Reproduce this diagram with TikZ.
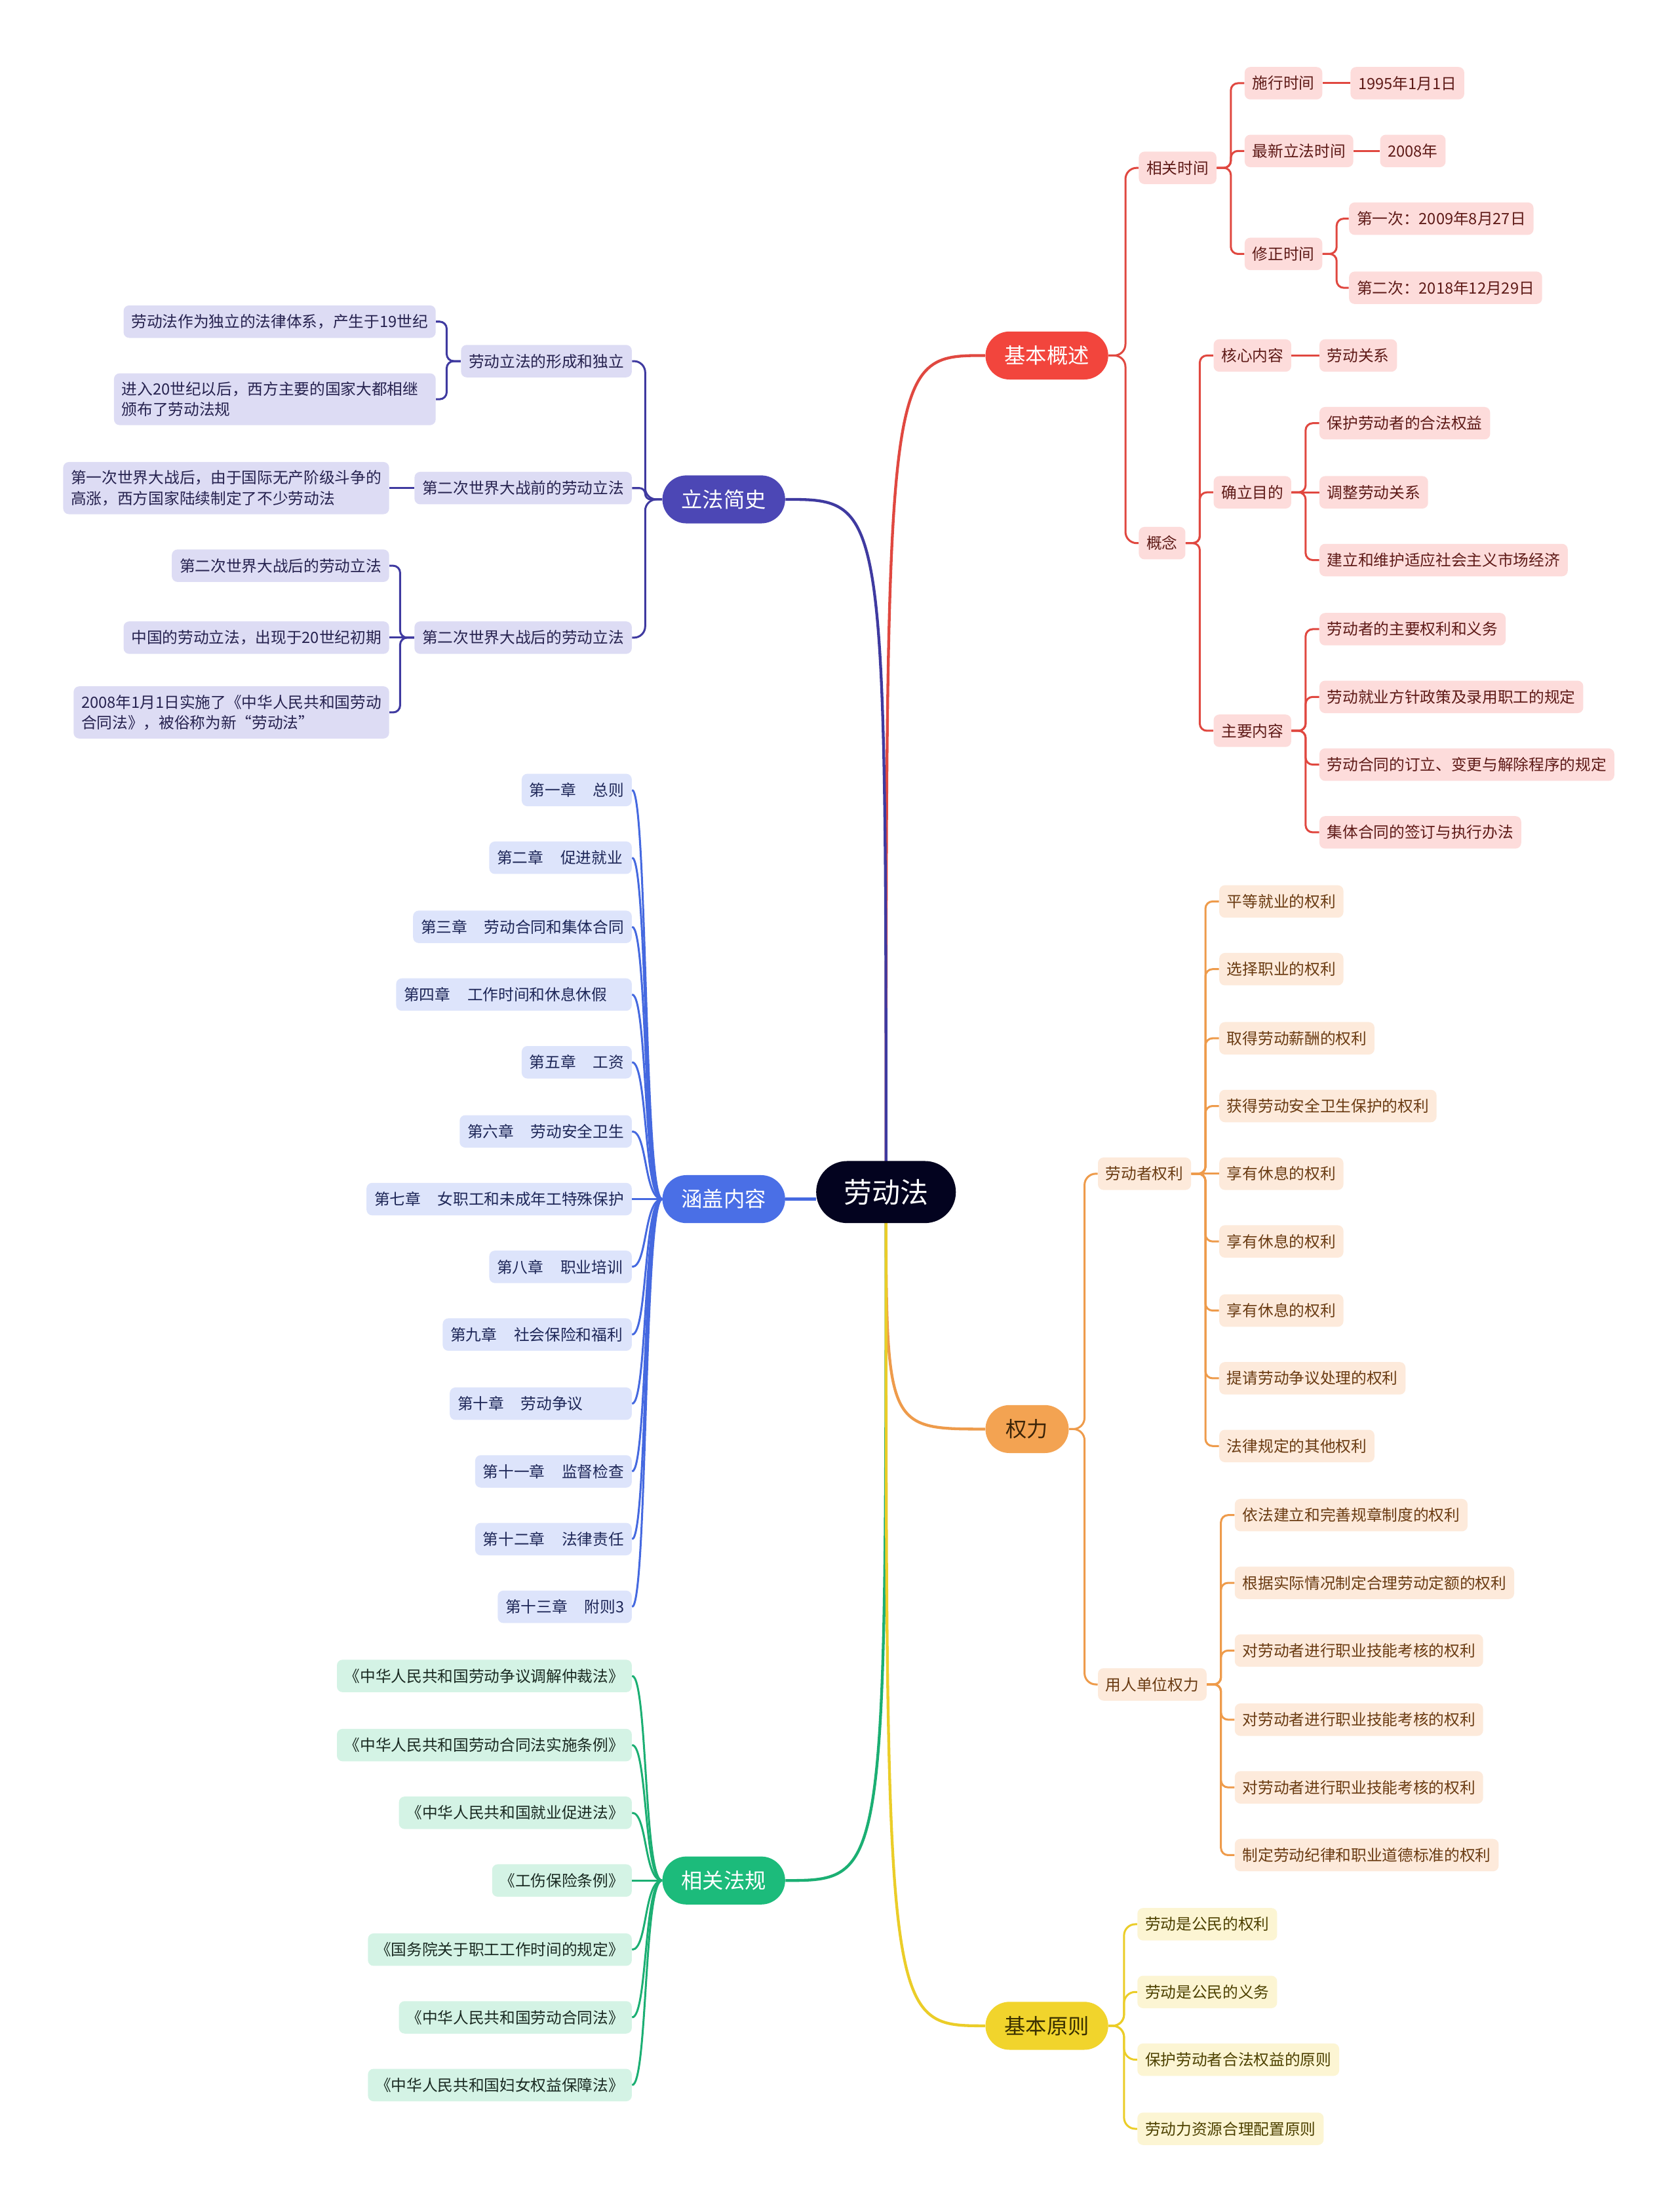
\documentclass[tikz,border=0pt]{standalone}
\usepackage{fontspec}
\setmainfont{Noto Sans CJK SC}
\usetikzlibrary{backgrounds}
\definecolor{rootc}{HTML}{03031F}
\definecolor{redm}{HTML}{F2453D}
\definecolor{redl}{HTML}{E04840}
\definecolor{redf}{HTML}{FDDCDB}
\definecolor{redt}{HTML}{5E1A17}
\definecolor{purm}{HTML}{4C47B5}
\definecolor{purl}{HTML}{3F3AA0}
\definecolor{purf}{HTML}{DDDCF4}
\definecolor{purt}{HTML}{26224F}
\definecolor{blum}{HTML}{4A6FE6}
\definecolor{blul}{HTML}{4569E0}
\definecolor{bluf}{HTML}{DDE4FB}
\definecolor{blut}{HTML}{1D2657}
\definecolor{grnm}{HTML}{1CBB7B}
\definecolor{grnl}{HTML}{1BAF73}
\definecolor{grnf}{HTML}{D4F3E5}
\definecolor{grnt}{HTML}{1A2A22}
\definecolor{orgm}{HTML}{F3A352}
\definecolor{orgl}{HTML}{EE9B4B}
\definecolor{orgf}{HTML}{FDEADB}
\definecolor{orgt}{HTML}{6A3B12}
\definecolor{orgmt}{HTML}{3B2408}
\definecolor{yelm}{HTML}{F1D42C}
\definecolor{yell}{HTML}{EBCD28}
\definecolor{yelf}{HTML}{FCF5D3}
\definecolor{yelt}{HTML}{4D4100}
\definecolor{yelmt}{HTML}{3A3000}
\tikzset{
  leafbox/.style={rounded corners=4pt, inner xsep=5.5pt, inner ysep=6pt, minimum height=23pt, font=\fontsize{11}{14.5}\selectfont, align=left},
  rleaf/.style={leafbox, fill=redf, text=redt},
  pleaf/.style={leafbox, fill=purf, text=purt},
  bleaf/.style={leafbox, fill=bluf, text=blut},
  gleaf/.style={leafbox, fill=grnf, text=grnt},
  oleaf/.style={leafbox, fill=orgf, text=orgt},
  yleaf/.style={leafbox, fill=yelf, text=yelt},
  mainbox/.style={rounded corners=17pt, minimum height=34pt, minimum width=87pt, inner xsep=8pt, font=\fontsize{15}{18}\selectfont},
  mainlink/.style={line width=2pt},
  sublink/.style={line width=1.4pt},
  rlink/.style={sublink, draw=redl, rounded corners=5pt},
  plink/.style={sublink, draw=purl, rounded corners=5pt},
  blink/.style={sublink, draw=blul},
  glink/.style={sublink, draw=grnl},
  olink/.style={sublink, draw=orgl, rounded corners=5pt},
  ylink/.style={sublink, draw=yell, rounded corners=8pt},
}
\begin{document}
\begin{tikzpicture}[x=1pt, y=-1pt]
\useasboundingbox (0,0) rectangle (1189,1568);
% root
\node[fill=rootc, text=white, rounded corners=22pt, minimum width=99pt, minimum height=44pt, font=\fontsize{20}{24}\selectfont] (root) at (628,845) {劳动法};
% ---------- 基本概述 ----------
\node[mainbox, fill=redm, text=white] (jbgs) at (742,252) {基本概述};
\node[rleaf, anchor=west] (xgsj) at (807,119) {相关时间};
\node[rleaf, anchor=west] (sxsj) at (882,59) {施行时间};
\node[rleaf, anchor=west] (d1995) at (957,59) {1995年1月1日};
\node[rleaf, anchor=west] (zxlf) at (882,107) {最新立法时间};
\node[rleaf, anchor=west] (d2008) at (978,107) {2008年};
\node[rleaf, anchor=west] (xzsj) at (882,180) {修正时间};
\node[rleaf, anchor=west] (dyc) at (956,155) {第一次：2009年8月27日};
\node[rleaf, anchor=west] (dec) at (956,204) {第二次：2018年12月29日};
\node[rleaf, anchor=west] (gn) at (807,385) {概念};
\node[rleaf, anchor=west] (hxnr) at (860,252) {核心内容};
\node[rleaf, anchor=west] (ldgx) at (935,252) {劳动关系};
\node[rleaf, anchor=west] (qlmd) at (860,349) {确立目的};
\node[rleaf, anchor=west] (bh) at (935,300) {保护劳动者的合法权益};
\node[rleaf, anchor=west] (tz) at (935,349) {调整劳动关系};
\node[rleaf, anchor=west] (jl) at (935,397) {建立和维护适应社会主义市场经济};
\node[rleaf, anchor=west] (zynr) at (860,518) {主要内容};
\node[rleaf, anchor=west] (z1) at (935,446) {劳动者的主要权利和义务};
\node[rleaf, anchor=west] (z2) at (935,494) {劳动就业方针政策及录用职工的规定};
\node[rleaf, anchor=west] (z3) at (935,542) {劳动合同的订立、变更与解除程序的规定};
\node[rleaf, anchor=west] (z4) at (935,590) {集体合同的签订与执行办法};
% ---------- 立法简史 ----------
\node[mainbox, fill=purm, text=white] (lfjs) at (513,354) {立法简史};
\node[pleaf, anchor=east] (xc) at (448,256) {劳动立法的形成和独立};
\node[pleaf, anchor=east] (p1) at (309,228) {劳动法作为独立的法律体系，产生于19世纪};
\node[pleaf, anchor=east, text width=217pt] (p2) at (309,283) {进入20世纪以后，西方主要的国家大都相继\\颁布了劳动法规};
\node[pleaf, anchor=east] (zq) at (448,346) {第二次世界大战前的劳动立法};
\node[pleaf, anchor=east] (p3) at (276,346) {第一次世界大战后，由于国际无产阶级斗争的\\高涨，西方国家陆续制定了不少劳动法};
\node[pleaf, anchor=east] (zh) at (448,452) {第二次世界大战后的劳动立法};
\node[pleaf, anchor=east] (p4) at (276,401) {第二次世界大战后的劳动立法};
\node[pleaf, anchor=east] (p5) at (276,452) {中国的劳动立法，出现于20世纪初期};
\node[pleaf, anchor=east] (p6) at (276,505) {2008年1月1日实施了《中华人民共和国劳动\\合同法》，被俗称为新“劳动法”};
% ---------- 涵盖内容 ----------
\node[mainbox, fill=blum, text=white] (hgnr) at (513,850) {涵盖内容};
\node[bleaf, anchor=east] (c1) at (448,560) {\makebox[67pt][l]{第一章\hspace{12pt}总则}};
\node[bleaf, anchor=east] (c2) at (448,608) {\makebox[90pt][l]{第二章\hspace{12pt}促进就业}};
\node[bleaf, anchor=east] (c3) at (448,657) {\makebox[144pt][l]{第三章\hspace{12pt}劳动合同和集体合同}};
\node[bleaf, anchor=east] (c4) at (448,705) {\makebox[156pt][l]{第四章\hspace{12pt}工作时间和休息休假}};
\node[bleaf, anchor=east] (c5) at (448,753) {\makebox[67pt][l]{第五章\hspace{12pt}工资}};
\node[bleaf, anchor=east] (c6) at (448,802) {\makebox[111pt][l]{第六章\hspace{12pt}劳动安全卫生}};
\node[bleaf, anchor=east] (c7) at (448,850) {\makebox[177pt][l]{第七章\hspace{12pt}女职工和未成年工特殊保护}};
\node[bleaf, anchor=east] (c8) at (448,898) {\makebox[90pt][l]{第八章\hspace{12pt}职业培训}};
\node[bleaf, anchor=east] (c9) at (448,946) {\makebox[123pt][l]{第九章\hspace{12pt}社会保险和福利}};
\node[bleaf, anchor=east] (c10) at (448,995) {\makebox[118pt][l]{第十章\hspace{12pt}劳动争议}};
\node[bleaf, anchor=east] (c11) at (448,1043) {\makebox[100pt][l]{第十一章\hspace{12pt}监督检查}};
\node[bleaf, anchor=east] (c12) at (448,1091) {\makebox[100pt][l]{第十二章\hspace{12pt}法律责任}};
\node[bleaf, anchor=east] (c13) at (448,1139) {\makebox[84pt][l]{第十三章\hspace{12pt}附则3}};
% ---------- 相关法规 ----------
\node[mainbox, fill=grnm, text=white] (xgfg) at (513,1333) {相关法规};
\node[gleaf, anchor=east] (g1) at (448,1188) {《中华人民共和国劳动争议调解仲裁法》};
\node[gleaf, anchor=east] (g2) at (448,1237) {《中华人民共和国劳动合同法实施条例》};
\node[gleaf, anchor=east] (g3) at (448,1285) {《中华人民共和国就业促进法》};
\node[gleaf, anchor=east] (g4) at (448,1333) {《工伤保险条例》};
\node[gleaf, anchor=east] (g5) at (448,1382) {《国务院关于职工工作时间的规定》};
\node[gleaf, anchor=east] (g6) at (448,1430) {《中华人民共和国劳动合同法》};
\node[gleaf, anchor=east] (g7) at (448,1478) {《中华人民共和国妇女权益保障法》};
% ---------- 权力 ----------
\node[mainbox, fill=orgm, text=orgmt, minimum width=59pt] (ql) at (728,1013) {权力};
\node[oleaf, anchor=west] (ldzql) at (778,832) {劳动者权利};
\node[oleaf, anchor=west] (o1) at (864,639) {平等就业的权利};
\node[oleaf, anchor=west] (o2) at (864,687) {选择职业的权利};
\node[oleaf, anchor=west] (o3) at (864,736) {取得劳动薪酬的权利};
\node[oleaf, anchor=west] (o4) at (864,784) {获得劳动安全卫生保护的权利};
\node[oleaf, anchor=west] (o5) at (864,832) {享有休息的权利};
\node[oleaf, anchor=west] (o6) at (864,880) {享有休息的权利};
\node[oleaf, anchor=west] (o7) at (864,929) {享有休息的权利};
\node[oleaf, anchor=west] (o8) at (864,977) {提请劳动争议处理的权利};
\node[oleaf, anchor=west] (o9) at (864,1025) {法律规定的其他权利};
\node[oleaf, anchor=west] (yrdw) at (778,1194) {用人单位权力};
\node[oleaf, anchor=west] (u1) at (875,1074) {依法建立和完善规章制度的权利};
\node[oleaf, anchor=west] (u2) at (875,1122) {根据实际情况制定合理劳动定额的权利};
\node[oleaf, anchor=west] (u3) at (875,1170) {对劳动者进行职业技能考核的权利};
\node[oleaf, anchor=west] (u4) at (875,1219) {对劳动者进行职业技能考核的权利};
\node[oleaf, anchor=west] (u5) at (875,1267) {对劳动者进行职业技能考核的权利};
\node[oleaf, anchor=west] (u6) at (875,1315) {制定劳动纪律和职业道德标准的权利};
% ---------- 基本原则 ----------
\node[mainbox, fill=yelm, text=yelmt] (jbyz) at (742,1436) {基本原则};
\node[yleaf, anchor=west] (y1) at (806,1364) {劳动是公民的权利};
\node[yleaf, anchor=west] (y2) at (806,1412) {劳动是公民的义务};
\node[yleaf, anchor=west] (y3) at (806,1460) {保护劳动者合法权益的原则};
\node[yleaf, anchor=west] (y4) at (806,1509) {劳动力资源合理配置原则};
% ---------- connectors ----------
\begin{scope}[on background layer]
\fill[white] (0,0) rectangle (1189,1568);
% main
\draw[mainlink, redl] (root.center) .. controls (root.center |- jbgs.west) .. (jbgs.west);
\draw[mainlink, purl] (root.center) .. controls (root.center |- lfjs.east) .. (lfjs.east);
\draw[mainlink, blul] (root.west |- hgnr.east) -- (hgnr.east);
\draw[mainlink, orgl] (root.center) .. controls (root.center |- ql.west) .. (ql.west);
\draw[mainlink, grnl] (root.center) .. controls (root.center |- xgfg.east) .. (xgfg.east);
\draw[mainlink, yell] (root.center) .. controls (root.center |- jbyz.west) .. (jbyz.west);
% red
\draw[rlink, rounded corners=8pt] (jbgs.east) -- ++(12,0) |- (xgsj.west);
\draw[rlink, rounded corners=8pt] (jbgs.east) -- ++(12,0) |- (gn.west);
\foreach \c in {sxsj,zxlf,xzsj} \draw[rlink] (xgsj.east) -- ++(10,0) |- (\c.west);
\draw[rlink] (sxsj.east) -- (d1995.west);
\draw[rlink] (zxlf.east) -- (d2008.west);
\foreach \c in {dyc,dec} \draw[rlink] (xzsj.east) -- ++(10,0) |- (\c.west);
\foreach \c in {hxnr,qlmd,zynr} \draw[rlink] (gn.east) -- ++(10,0) |- (\c.west);
\draw[rlink] (hxnr.east) -- (ldgx.west);
\foreach \c in {bh,jl} \draw[rlink] (qlmd.east) -- ++(10,0) |- (\c.west);
\draw[rlink] (qlmd.east) -- (tz.west);
\foreach \c in {z1,z2,z3,z4} \draw[rlink] (zynr.east) -- ++(10,0) |- (\c.west);
% purple
\draw[plink, rounded corners=8pt] (lfjs.west) -- ++(-12,0) |- (xc.east);
\draw[plink, rounded corners=4pt] (lfjs.west) -- ++(-12,0) |- (zq.east);
\draw[plink, rounded corners=8pt] (lfjs.west) -- ++(-12,0) |- (zh.east);
\foreach \c in {p1,p2} \draw[plink] (xc.west) -- ++(-10,0) |- (\c.east);
\draw[plink] (zq.west) -- (p3.east);
\foreach \c in {p4,p6} \draw[plink] (zh.west) -- ++(-10,0) |- (\c.east);
\draw[plink] (zh.west) -- (p5.east);
% blue
\foreach \c in {c1,c2,c3,c4,c5,c6,c8,c9,c10,c11,c12,c13}
  \draw[blink] (\c.east) .. controls +(11,0) and +(-13,0) .. (hgnr.west);
\draw[blink] (c7.east) -- (hgnr.west);
% green
\foreach \c in {g1,g2,g3,g5,g6,g7}
  \draw[glink] (\c.east) .. controls +(11,0) and +(-13,0) .. (xgfg.west);
\draw[glink] (g4.east) -- (xgfg.west);
% orange
\draw[olink, rounded corners=8pt] (ql.east) -- ++(11,0) |- (ldzql.west);
\draw[olink, rounded corners=8pt] (ql.east) -- ++(11,0) |- (yrdw.west);
\foreach \c in {o1,o2,o3,o4,o6,o7,o8,o9} \draw[olink] (ldzql.east) -- ++(10,0) |- (\c.west);
\draw[olink] (ldzql.east) -- (o5.west);
\foreach \c in {u1,u2,u3,u4,u5,u6} \draw[olink] (yrdw.east) -- ++(10,0) |- (\c.west);
% yellow
\foreach \c in {y1,y2,y3,y4} \draw[ylink] (jbyz.east) -- ++(11,0) |- (\c.west);
\end{scope}
\end{tikzpicture}
\end{document}
